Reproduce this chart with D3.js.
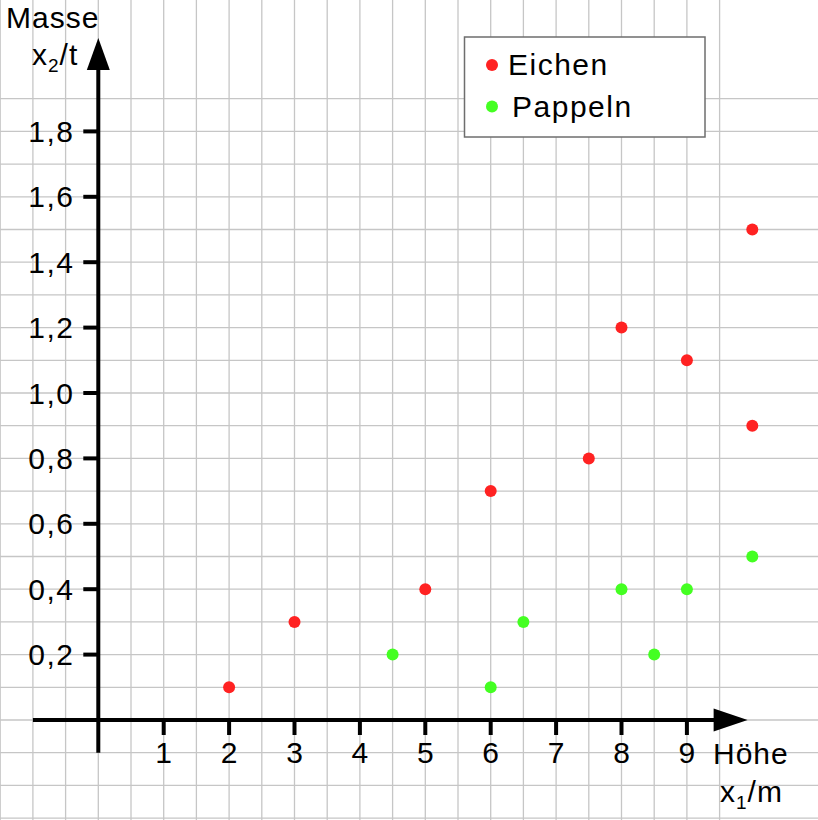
<!DOCTYPE html>
<html>
<head>
<meta charset="utf-8">
<script src="https://cdn.jsdelivr.net/npm/d3@7.9.0/dist/d3.min.js"></script>
<style>
  body { margin: 0; background: #fff; }
  svg { display: block; }
  text { font-family: "Liberation Sans", Arial, sans-serif; fill: #000; }
</style>
</head>
<body>
<div id="chart"></div>
<script>
// data: height in m, mass in t
const eichen = [
  [2, 0.1], [3, 0.3], [5, 0.4], [6, 0.7], [7.5, 0.8],
  [8, 1.2], [9, 1.1], [10, 1.5], [10, 0.9]
];
const pappeln = [
  [4.5, 0.2], [6, 0.1], [6.5, 0.3], [8, 0.4], [8.5, 0.2], [9, 0.4], [10, 0.5]
];
const xTicks = [1, 2, 3, 4, 5, 6, 7, 8, 9];
const yTicks = [0.2, 0.4, 0.6, 0.8, 1.0, 1.2, 1.4, 1.6, 1.8];
const series = [
  { name: 'Eichen', color: '#ff2222', points: eichen },
  { name: 'Pappeln', color: '#44ff22', points: pappeln }
];

const width = 818;
const height = 820;
const fs = 30;

const x = d3.scaleLinear().domain([-1.5, 11]).range([0.2, 817.7]);
const y = d3.scaleLinear().domain([-0.3, 2.2]).range([818.1, 0.6]);

const svg = d3.select('#chart').append('svg')
  .attr('width', width)
  .attr('height', height);

// squared paper
const grid = svg.append('g').attr('stroke', '#c6c6c6').attr('stroke-width', 1.3);
grid.selectAll('line.v')
  .data(d3.range(-3, 23).map(k => -1.5 + k * 0.5))
  .join('line')
  .attr('x1', d => x(d)).attr('x2', d => x(d))
  .attr('y1', 0).attr('y2', height);
grid.selectAll('line.h')
  .data(d3.range(-3, 23).map(k => -0.3 + k * 0.1))
  .join('line')
  .attr('y1', d => y(d)).attr('y2', d => y(d))
  .attr('x1', 0).attr('x2', width);

// axes with arrows
const axes = svg.append('g');
const xEnd = x(9.5) - 6;   // arrow base
const yEnd = y(2.0) + 4;
axes.append('line')
  .attr('x1', x(-1)).attr('x2', xEnd + 2)
  .attr('y1', y(0)).attr('y2', y(0))
  .attr('stroke', '#000').attr('stroke-width', 4);
axes.append('path')
  .attr('d', `M${xEnd + 34},${y(0)} L${xEnd},${y(0) - 11.5} L${xEnd},${y(0) + 11.5} Z`)
  .attr('fill', '#000');
axes.append('line')
  .attr('x1', x(0)).attr('x2', x(0))
  .attr('y1', y(-0.1)).attr('y2', yEnd - 2)
  .attr('stroke', '#000').attr('stroke-width', 4);
axes.append('path')
  .attr('d', `M${x(0)},${yEnd - 32} L${x(0) - 11.5},${yEnd} L${x(0) + 11.5},${yEnd} Z`)
  .attr('fill', '#000');

// x ticks
axes.selectAll('line.xt')
  .data(xTicks)
  .join('line')
  .attr('x1', d => x(d)).attr('x2', d => x(d))
  .attr('y1', y(0)).attr('y2', y(0) + 15)
  .attr('stroke', '#000').attr('stroke-width', 4);
axes.selectAll('text.xt')
  .data(xTicks)
  .join('text')
  .attr('x', d => x(d)).attr('y', y(0) + 43)
  .attr('text-anchor', 'middle')
  .attr('font-size', fs)
  .text(d => d);

// y ticks
axes.selectAll('line.yt')
  .data(yTicks)
  .join('line')
  .attr('x1', x(0) - 15).attr('x2', x(0))
  .attr('y1', d => y(d)).attr('y2', d => y(d))
  .attr('stroke', '#000').attr('stroke-width', 4);
axes.selectAll('text.yt')
  .data(yTicks)
  .join('text')
  .attr('x', 74.5).attr('y', d => y(d) + 10.5)
  .attr('text-anchor', 'end')
  .attr('font-size', fs)
  .attr('letter-spacing', 1.5)
  .text(d => d3.format('.1f')(d).replace('.', ','));

// axis titles
svg.append('text').attr('x', 6).attr('y', 28)
  .attr('font-size', fs).attr('letter-spacing', 1).text('Masse');
const yl = svg.append('text').attr('x', 32).attr('y', 65)
  .attr('font-size', fs).attr('letter-spacing', 1);
yl.append('tspan').text('x');
yl.append('tspan').attr('font-size', 19).attr('dy', 7).text('2');
yl.append('tspan').attr('dy', -7).text('/t');

svg.append('text').attr('x', 713).attr('y', 764)
  .attr('font-size', fs).attr('letter-spacing', 1).text('Höhe');
const xl = svg.append('text').attr('x', 720).attr('y', 802)
  .attr('font-size', fs).attr('letter-spacing', 1);
xl.append('tspan').text('x');
xl.append('tspan').attr('font-size', 19).attr('dy', 7).text('1');
xl.append('tspan').attr('dy', -7).text('/m');

// points
series.forEach(s => {
  svg.append('g')
    .selectAll('circle')
    .data(s.points)
    .join('circle')
    .attr('cx', d => x(d[0]))
    .attr('cy', d => y(d[1]))
    .attr('r', 6)
    .attr('fill', s.color);
});

// legend
const legend = svg.append('g');
legend.append('rect')
  .attr('x', 464.5).attr('y', 37)
  .attr('width', 240.5).attr('height', 100)
  .attr('fill', '#fff')
  .attr('stroke', '#6e6e6e').attr('stroke-width', 1.5);
const items = legend.selectAll('g.item')
  .data(series)
  .join('g')
  .attr('transform', (d, i) => `translate(492,${65 + i * 41.5})`);
items.append('circle').attr('r', 6).attr('fill', d => d.color);
items.append('text')
  .attr('x', (d, i) => i === 0 ? 16 : 20)
  .attr('y', 10)
  .attr('font-size', fs)
  .attr('letter-spacing', 1.5)
  .text(d => d.name);
</script>
</body>
</html>
